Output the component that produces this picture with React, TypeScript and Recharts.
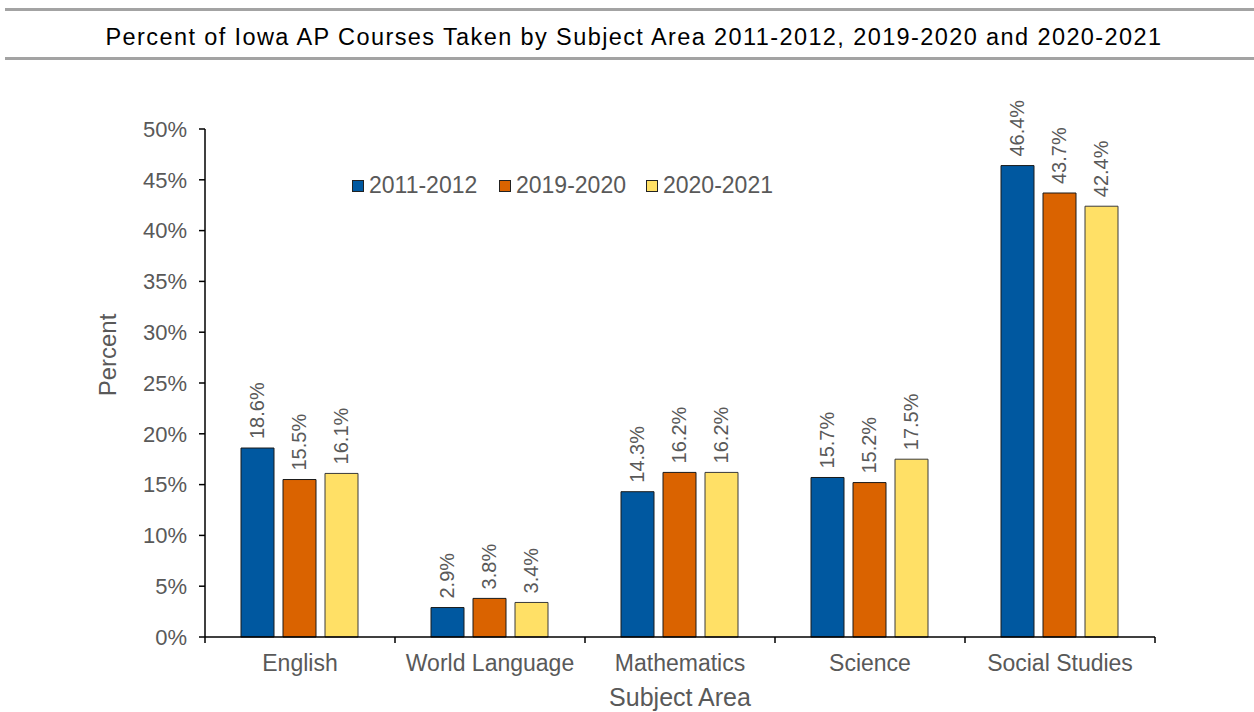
import { BarChart, Bar, XAxis, YAxis, Legend, LabelList, Label } from 'recharts'

const subjects = ['English', 'World Language', 'Mathematics', 'Science', 'Social Studies']
const years2011 = [18.6, 2.9, 14.3, 15.7, 46.4]
const years2019 = [15.5, 3.8, 16.2, 15.2, 43.7]
const years2020 = [16.1, 3.4, 16.2, 17.5, 42.4]
const yTicks = [0, 5, 10, 15, 20, 25, 30, 35, 40, 45, 50]

const seriesInfo = [
  { key: 'y2011', name: '2011-2012', color: '#0058A0', stroke: '#1a1a1a' },
  { key: 'y2019', name: '2019-2020', color: '#DA6300', stroke: '#1a1a1a' },
  { key: 'y2020', name: '2020-2021', color: '#FFE066', stroke: '#3a3a3a' },
]

const data = subjects.map((name, i) => ({
  name,
  y2011: years2011[i],
  y2019: years2019[i],
  y2020: years2020[i],
}))

const FONT = '"Liberation Sans", Arial, sans-serif'
const GRAY = '#595959'
const X_TICK_GAP = 18

// category label + short marks at the band edges (Excel style)
const CategoryTick = (props: any) => {
  const { x, y, payload, index, visibleTicksCount } = props
  const half = payload?.offset ?? 0
  const axisY = y - X_TICK_GAP
  const isLast = index === (visibleTicksCount ?? subjects.length) - 1
  return (
    <g>
      {half > 0 && (
        <line x1={x - half} x2={x - half} y1={axisY} y2={axisY + 6} stroke="#000" strokeWidth={1.5} />
      )}
      {half > 0 && isLast && (
        <line x1={x + half} x2={x + half} y1={axisY} y2={axisY + 6} stroke="#000" strokeWidth={1.5} />
      )}
      <text x={x} y={y} dy="0.71em" textAnchor="middle" fontSize={23} fill={GRAY} fontFamily={FONT}>
        {payload.value}
      </text>
    </g>
  )
}

const BarLabel = (props: any) => {
  const { x, y, width, value } = props
  const cx = x + width / 2
  const cy = y - 9
  return (
    <text
      x={cx}
      y={cy}
      transform={`rotate(-90, ${cx}, ${cy})`}
      textAnchor="start"
      dominantBaseline="central"
      fontSize={20}
      fill={GRAY}
      fontFamily={FONT}
    >
      {Number(value).toFixed(1)}%
    </text>
  )
}

const LegendContent = () => (
  <div style={{ display: 'flex', fontFamily: FONT, fontSize: 23, color: GRAY }}>
    {seriesInfo.map(s => (
      <div key={s.key} style={{ display: 'flex', alignItems: 'center', width: 147 }}>
        <span
          style={{
            display: 'inline-block', width: 10, height: 10, marginRight: 5,
            background: s.color, border: '1px solid #222',
          }}
        />
        <span>{s.name}</span>
      </div>
    ))}
  </div>
)

const YTitle = (props: any) => {
  const { viewBox } = props
  const x = viewBox.x - 3
  const y = viewBox.y + viewBox.height / 2 - 28
  return (
    <text x={x} y={y} transform={`rotate(-90, ${x}, ${y})`} textAnchor="middle"
      dominantBaseline="central" fontSize={24} fill={GRAY} fontFamily={FONT}>
      Percent
    </text>
  )
}

export default function App() {
  return (
    <div style={{ position: 'absolute', left: 0, top: 0, width: 1254, height: 712, background: '#fff', fontFamily: FONT }}>
      <div style={{ position: 'absolute', left: 5, right: 0, top: 8, height: 3, background: '#A3A3A3' }} />
      <div style={{ position: 'absolute', left: 5, right: 0, top: 57, height: 3, background: '#A3A3A3' }} />
      <div style={{
        position: 'absolute', left: 0, width: 1268, top: 22, textAlign: 'center',
        fontSize: 23.5, letterSpacing: 1.4, color: '#000', lineHeight: '30px',
      }}>
        Percent of Iowa AP Courses Taken by Subject Area 2011-2012, 2019-2020 and 2020-2021
      </div>
      <BarChart
        width={1254}
        height={712}
        data={data}
        margin={{ top: 129, right: 99, left: 110, bottom: 0 }}
        barCategoryGap={36}
        barGap={9}
        style={{ position: 'absolute', left: 0, top: 0 }}
      >
        <XAxis
          dataKey="name"
          height={75}
          axisLine={{ stroke: '#000', strokeWidth: 1.5 }}
          tickLine={false}
          tickSize={0}
          tickMargin={X_TICK_GAP}
          tick={(p: any) => <CategoryTick {...p} />}
          interval={0}
        >
          <Label value="Subject Area" position="insideBottom" offset={6}
            fill={GRAY} fontSize={25} fontFamily={FONT} />
        </XAxis>
        <YAxis
          width={95}
          domain={[0, 50]}
          ticks={yTicks}
          interval={0}
          tickFormatter={v => `${v}%`}
          axisLine={{ stroke: '#000', strokeWidth: 1.5 }}
          tickLine={{ stroke: '#000', strokeWidth: 1.5 }}
          tickSize={6}
          tickMargin={12}
          tick={{ fill: GRAY, fontSize: 22, fontFamily: FONT }}
        >
          <Label content={<YTitle />} />
        </YAxis>
        <Legend
          verticalAlign="middle"
          align="center"
          content={<LegendContent />}
          wrapperStyle={{ left: 352, top: 172, width: 460 }}
        />
        {seriesInfo.map(s => (
          <Bar
            key={s.key}
            dataKey={s.key}
            name={s.name}
            fill={s.color}
            stroke={s.stroke}
            strokeWidth={1}
            isAnimationActive={false}
          >
            <LabelList dataKey={s.key} content={<BarLabel />} />
          </Bar>
        ))}
      </BarChart>
    </div>
  )
}
